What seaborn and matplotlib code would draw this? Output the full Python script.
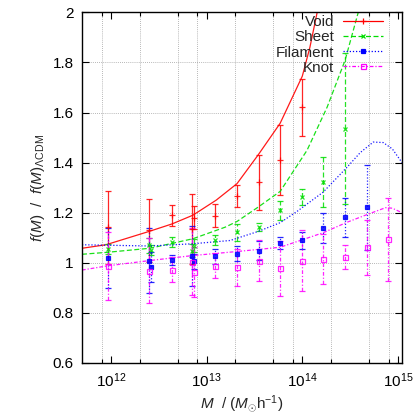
import numpy as np
import matplotlib
matplotlib.use("Agg")
import matplotlib.pyplot as plt
from matplotlib.lines import Line2D
from matplotlib.ticker import FixedLocator, NullFormatter
import seaborn as sns

# ---- data ----
# measured points (mass in Msun/h, ratio f(M)/f(M)_LCDM, symmetric error)
void_mass = [9.3e11, 2.5e12, 4.35e12, 7.05e12, 7.4e12, 1.22e13, 2.08e13, 3.54e13, 5.87e13, 9.97e13]
void_ratio = [1.141, 1.129, 1.189, 1.135, 1.18, 1.188, 1.266, 1.322, 1.412, 1.62]
void_err = [0.147, 0.124, 0.042, 0.14, 0.045, 0.047, 0.044, 0.11, 0.14, 0.113]

sheet_mass = [9.3e11, 2.5e12, 2.62e12, 4.35e12, 7.05e12, 7.4e12, 1.22e13, 2.08e13, 3.54e13,
              5.87e13, 9.97e13, 1.66e14, 2.81e14]
sheet_ratio = [1.055, 1.07, 1.05, 1.083, 1.049, 1.069, 1.092, 1.121, 1.142, 1.209, 1.264, 1.322, 1.536]
sheet_err = [0.02, 0.03, 0.02, 0.02, 0.025, 0.025, 0.02, 0.033, 0.017, 0.038, 0.032, 0.1, 0.3]

fil_mass = [9.3e11, 2.5e12, 2.62e12, 4.35e12, 7.05e12, 7.4e12, 1.22e13, 2.08e13, 3.54e13,
            5.87e13, 9.97e13, 1.66e14, 2.81e14, 4.78e14]
fil_ratio = [1.02, 1.009, 0.985, 1.013, 1.028, 1.007, 1.027, 1.036, 1.049, 1.079, 1.089, 1.138, 1.182, 1.222]
fil_err = [0.12, 0.13, 0.06, 0.02, 0.12, 0.03, 0.03, 0.03, 0.037, 0.025, 0.033, 0.06, 0.078, 0.17]

knot_mass = [9.3e11, 2.5e12, 4.35e12, 7.05e12, 7.4e12, 1.22e13, 2.08e13, 3.54e13, 5.87e13,
             9.97e13, 1.66e14, 2.81e14, 4.78e14, 7.9e14]
knot_ratio = [0.987, 0.969, 0.972, 1.005, 0.962, 0.989, 0.982, 1.009, 0.978, 1.009, 1.015, 1.023, 1.062, 1.093]
knot_err = [0.135, 0.13, 0.05, 0.135, 0.1, 0.05, 0.075, 0.08, 0.11, 0.12, 0.1, 0.048, 0.11, 0.165]

# model curves
void_curve_m = [5e11, 8.9e11, 2.5e12, 4.35e12, 7.2e12, 1.26e13, 2.08e13, 3.45e13, 5.87e13, 1.0e14, 1.2e14, 1.43e14]
void_curve_r = [1.058, 1.072, 1.125, 1.155, 1.19, 1.25, 1.316, 1.43, 1.557, 1.745, 1.86, 2.0]

sheet_curve_m = [5e11, 9.3e11, 2.56e12, 7.2e12, 1.56e13, 2.08e13, 3.45e13, 5.87e13, 1.12e14, 1.82e14, 2.8e14, 3.84e14]
sheet_curve_r = [1.034, 1.042, 1.058, 1.096, 1.142, 1.165, 1.222, 1.285, 1.449, 1.622, 1.809, 2.0]

fil_curve_m = [5e11, 2.56e12, 7.2e12, 1.76e13, 3.45e13, 5.87e13, 8.8e13, 1.65e14, 2.94e14, 4.03e14,
               5.51e14, 7.0e14, 8.7e14, 1.1e15]
fil_curve_r = [1.072, 1.067, 1.076, 1.089, 1.125, 1.16, 1.205, 1.282, 1.382, 1.44, 1.482, 1.48, 1.455, 1.40]

knot_curve_m = [5e11, 9.3e11, 2.56e12, 7.2e12, 2.08e13, 5.87e13, 1.65e14, 2.94e14, 4.78e14, 7.4e14, 8.7e14, 1.1e15]
knot_curve_r = [0.971, 0.988, 1.009, 1.029, 1.045, 1.062, 1.12, 1.162, 1.193, 1.22, 1.218, 1.2]

labels = ["Void", "Sheet", "Filament", "Knot"]
colors = ["#ff0000", "#00dd00", "#0000ff", "#ff00ff"]
styles = ["-", (0, (4, 2)), (0, (1, 1.5)), (0, (3, 1.5, 1, 1.5))]
markers = ["+", "x", "s", "s"]

x_major = [1e12, 1e13, 1e14, 1e15]
x_minor = [8e11, 2e12, 5e12, 8e12, 2e13, 5e13, 8e13, 2e14, 5e14, 8e14]
y_ticks = [0.6, 0.8, 1.0, 1.2, 1.4, 1.6, 1.8, 2.0]
y_ticklabels = ["0.6", "0.8", "1", "1.2", "1.4", "1.6", "1.8", "2"]

sns.set_theme(style="ticks")
plt.rcParams["font.family"] = ["Liberation Sans", "DejaVu Sans"]
plt.rcParams["mathtext.fontset"] = "custom"
plt.rcParams["mathtext.rm"] = "Liberation Sans"
plt.rcParams["mathtext.it"] = "Liberation Sans:italic"
plt.rcParams["font.size"] = 11

fig = plt.figure(figsize=(4.13, 4.13), dpi=100)
ax = fig.add_axes([0.1985, 0.1211, 0.7749, 0.8491])

points = [(void_mass, void_ratio, void_err), (sheet_mass, sheet_ratio, sheet_err),
          (fil_mass, fil_ratio, fil_err), (knot_mass, knot_ratio, knot_err)]
curves = [(void_curve_m, void_curve_r), (sheet_curve_m, sheet_curve_r),
          (fil_curve_m, fil_curve_r), (knot_curve_m, knot_curve_r)]

handles = []
for i, lab in enumerate(labels):
    cm, cr = curves[i]
    sns.lineplot(x=cm, y=cr, ax=ax, color=colors[i], linestyle=styles[i], lw=0.9,
                 sort=False, estimator=None, alpha=0.9)
    m, r, e = points[i]
    mfc = "none" if i == 3 else colors[i]
    ms = {0: 5, 1: 3.5, 2: 2.6, 3: 3.6}[i]
    cont = ax.errorbar(m, r, yerr=e, fmt=markers[i], color=colors[i], ms=ms, mfc=mfc,
                       mew=0.9, elinewidth=0.9, capsize=2.0, capthick=0.9, alpha=0.85)
    cont[2][0].set_linestyle(styles[i])
    handles.append(Line2D([], [], color=colors[i], ls=styles[i], lw=0.9, marker=markers[i],
                          ms=ms, mfc=mfc, mew=0.9))

ax.set_xscale("log")
ax.set_xlim(5e11, 1.1e15)
ax.set_ylim(0.6, 2.0)
ax.xaxis.set_major_locator(FixedLocator(x_major))
ax.xaxis.set_minor_locator(FixedLocator(x_minor))
ax.xaxis.set_minor_formatter(NullFormatter())
ax.set_yticks(y_ticks)
ax.set_yticklabels(y_ticklabels)

ax.grid(which="minor", axis="x", color="#a0a0a0", ls=(0, (1, 1.5)), lw=0.6)
ax.grid(which="major", axis="y", color="#a0a0a0", ls=(0, (1, 1.5)), lw=0.6)
ax.grid(which="major", axis="x", visible=False)

ax.tick_params(which="both", direction="in", top=True, right=True, labelsize=11, colors="black")
ax.tick_params(which="major", length=5, width=0.8, pad=6)
ax.tick_params(which="minor", length=3, width=0.8)
for s in ax.spines.values():
    s.set_color("black")
    s.set_linewidth(1.0)

ax.set_xlabel(r"$M$  / ($M_{\odot}$h$^{-1}$)", fontsize=11, labelpad=2)
ax.set_ylabel(r"$f(M)$  /  $f(M)_{\Lambda\mathrm{CDM}}$", fontsize=11, labelpad=4)

ax.legend(handles, labels, loc="upper right", bbox_to_anchor=(0.9406, 0.992), frameon=False,
          markerfirst=False, handlelength=2.6, handletextpad=0.6, labelspacing=0.08,
          borderpad=0, borderaxespad=0, fontsize=11, numpoints=1)

fig.savefig("out.png", dpi=100)
